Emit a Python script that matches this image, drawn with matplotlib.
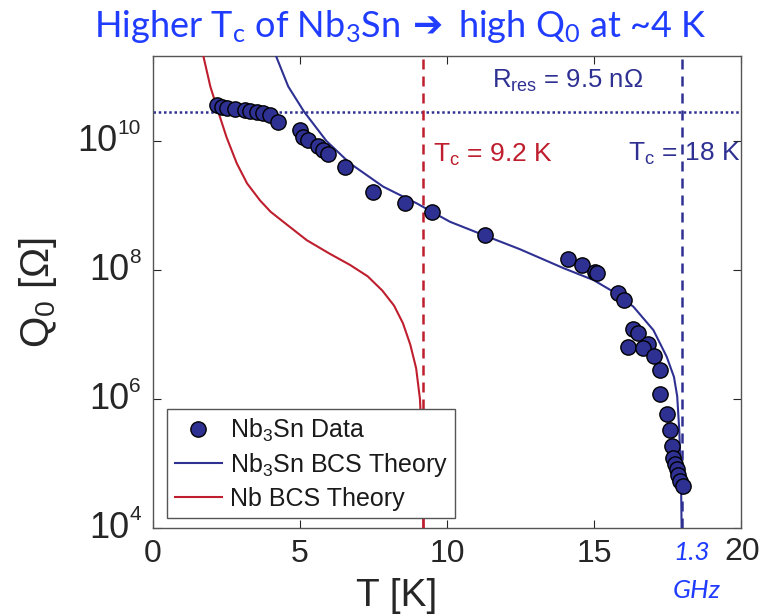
import numpy as np
import matplotlib
matplotlib.use("Agg")
from matplotlib import pyplot as plt
from matplotlib import transforms

plt.rcParams['font.family'] = ['Liberation Sans', 'DejaVu Sans']
plt.rcParams['mathtext.default'] = 'regular'

# measured Nb3Sn cavity data
T_data = [2.17, 2.34, 2.51, 2.79, 3.13, 3.30, 3.53, 3.75, 3.98, 4.26,
          5.00, 5.11, 5.28, 5.62, 5.79, 5.96, 6.53, 7.49, 8.57, 9.48,
          11.30, 14.10, 14.58, 15.03, 15.11, 15.83, 16.02, 16.32, 16.51,
          16.85, 16.15, 16.68, 17.04, 17.24, 17.24, 17.47, 17.59, 17.66,
          17.70, 17.76, 17.81, 17.87, 17.93, 18.02]
Q_data = [3.6e10, 3.4e10, 3.3e10, 3.1e10, 3.0e10, 2.9e10, 2.8e10, 2.7e10,
          2.5e10, 2.0e10, 1.5e10, 1.17e10, 1.04e10, 8.3e9, 7.2e9, 6.4e9,
          4.0e9, 1.6e9, 1.1e9, 8.0e8, 3.5e8, 1.47e8, 1.2e8, 9.4e7, 8.9e7,
          4.4e7, 3.4e7, 1.2e7, 1.05e7, 7.1e6, 6.5e6, 6.1e6, 4.6e6, 2.8e6,
          1.2e6, 5.8e5, 3.3e5, 1.9e5, 1.2e5, 1.0e5, 8.1e4, 6.6e4, 5.4e4,
          4.4e4]

# BCS theory curves
T_nb3sn = [4.18, 4.6, 5.14, 5.9, 6.70, 7.83, 8.97, 10.10, 11.3, 12.48,
           13.96, 14.98, 15.66, 16.34, 17.02, 17.47, 17.72, 17.83, 17.90,
           17.96, 17.98]
Q_nb3sn = [2.1e11, 7e10, 2.84e10, 1.0e10, 4.5e9, 1.96e9, 1.08e9, 5.6e8,
           3.4e8, 2.1e8, 1.07e8, 7e7, 4.6e7, 2.7e7, 1.17e7, 4.55e6, 2.2e6,
           1.1e6, 3.3e5, 5.5e4, 1e4]
T_nb = [1.71, 1.95, 2.22, 2.5, 2.85, 3.2, 3.64, 4.0, 4.43, 5.23, 6.0, 6.7,
        7.3, 7.8, 8.2, 8.5, 8.75, 8.95, 9.08, 9.15, 9.2]
Q_nb = [2.1e11, 7e10, 2.84e10, 1.15e10, 4.5e9, 2.2e9, 1.2e9, 8e8, 5.6e8,
        2.9e8, 1.8e8, 1.2e8, 8e7, 4.8e7, 2.8e7, 1.5e7, 7e6, 3e6, 1e6, 2e5,
        1e4]

Tc_nb, Tc_nb3sn = 9.2, 18.0
Q_res = 2.84e10
xticks = [0, 5, 10, 15, 20]
xticklabels = ['0', '5', '10', '15', '']
yticks = [1e4, 1e6, 1e8, 1e10]
yexps = ['4', '6', '8', '10']

navy = '#2e3192'
red = '#be1e2d'
blue = '#1f3cff'
grey = '#262626'
W, H = 761, 614

fig = plt.figure(figsize=(W/100, H/100), dpi=100)
ax = fig.add_axes([153/W, 1-528/H, 588/W, 472/H])
r = fig.canvas.get_renderer()

ax.axhline(Q_res, color=navy, ls=(0, (1, 1.1)), lw=1.8, zorder=2)
ax.axvline(Tc_nb, color=red, ls=(0, (4, 2.8)), lw=1.8, zorder=2)
ax.axvline(Tc_nb3sn, color=navy, ls=(0, (4, 2.8)), lw=1.8, zorder=2)

ax.plot(T_data, Q_data, 'o', ms=11, mfc=navy, mec='black', mew=1,
        label='Nb$_3$Sn Data', zorder=4)
ax.plot(T_nb3sn, Q_nb3sn, color=navy, lw=1.5, label='Nb$_3$Sn BCS Theory', zorder=3)
ax.plot(T_nb, Q_nb, color=red, lw=1.5, label='Nb BCS Theory', zorder=3)

ax.set_yscale('log')
ax.set_xlim(0, 20)
ax.set_ylim(1e4, 2.08e11)
ax.set_xticks(xticks)
ax.set_xticklabels(xticklabels)
ax.set_yticks(yticks)
ax.set_yticklabels([])
ax.minorticks_off()
ax.tick_params(direction='in', top=True, right=True, length=6, width=0.8,
               labelsize=23, labelcolor=grey, color=grey)
ax.tick_params(axis='x', pad=8)
for s in ax.spines.values():
    s.set_color('#555555')
    s.set_linewidth(1.0)

# y tick labels: "10" with a small exponent, like the original
ytrans = transforms.blended_transform_factory(fig.transFigure, ax.transData)
for yv, e in zip(yticks, yexps):
    te = fig.text(141/W, yv, e, fontsize=15, color=grey, ha='right', va='center',
                  transform=ytrans + transforms.ScaledTranslation(0, 13/100, fig.dpi_scale_trans))
    we = te.get_window_extent(r).width
    fig.text((141 - we)/W, yv, '10', fontsize=26, color=grey, ha='right',
             va='center', transform=ytrans)

# the "20" label sits right of its tick in the original
fig.text(760/W, 1-552/H, '20', fontsize=23, color=grey, ha='right', va='center')

fig.text(397/W, 1-596/H, 'T [K]', fontsize=28, color=grey, ha='center', va='center')
fig.text(38/W, 1-292/H, 'Q$_0$ [$\\Omega$]', fontsize=29, color=grey,
         rotation=90, ha='center', va='center')

ax.text(11.53, 10**10.82, 'R$_{res}$ = 9.5 n$\\Omega$', color=navy, fontsize=18.5,
        va='baseline', zorder=1)
ax.text(9.52, 10**9.68, 'T$_c$ = 9.2 K', color=red, fontsize=19, va='baseline', zorder=1)
ax.text(16.16, 10**9.69, 'T$_c$ = 18 K', color=navy, fontsize=19, va='baseline', zorder=1)

leg = ax.legend(loc='lower left', bbox_to_anchor=(0.024, 0.021), fontsize=18,
                frameon=True, fancybox=False, edgecolor='#555555', framealpha=1,
                handlelength=1.9, labelspacing=0.3, borderpad=0.3,
                handletextpad=0.3, borderaxespad=0)
leg.get_frame().set_linewidth(1.0)
leg.set_zorder(5)
for t in leg.get_texts():
    t.set_color('#1a1a1a')

fig.text(692/W, 1-552/H, '1.3', color=blue, fontsize=19, style='italic',
         family=['Lato', 'DejaVu Sans'], ha='center', va='center')
fig.text(697/W, 1-590/H, 'GHz', color=blue, fontsize=19, style='italic',
         family=['Lato', 'DejaVu Sans'], ha='center', va='center')

# title in three pieces so the arrow can come from DejaVu
ty = 1 - 37/H
parts = [('Higher T$_c$ of Nb$_3$Sn', ['Lato']), ('\u2794', ['DejaVu Sans']),
         ('high Q$_0$ at ~4 K', ['Lato'])]
gaps = [13, 15]
texts = [fig.text(0, ty, s, color=blue, fontsize=26, family=f, ha='left',
                  va='baseline') for s, f in parts]
widths = [t.get_window_extent(r).width for t in texts]
total = sum(widths) + sum(gaps)
x = 400 - total/2
for t, w, g in zip(texts, widths, gaps + [0]):
    t.set_x(x/W)
    x += w + g

fig.savefig('out.png', dpi=100)
